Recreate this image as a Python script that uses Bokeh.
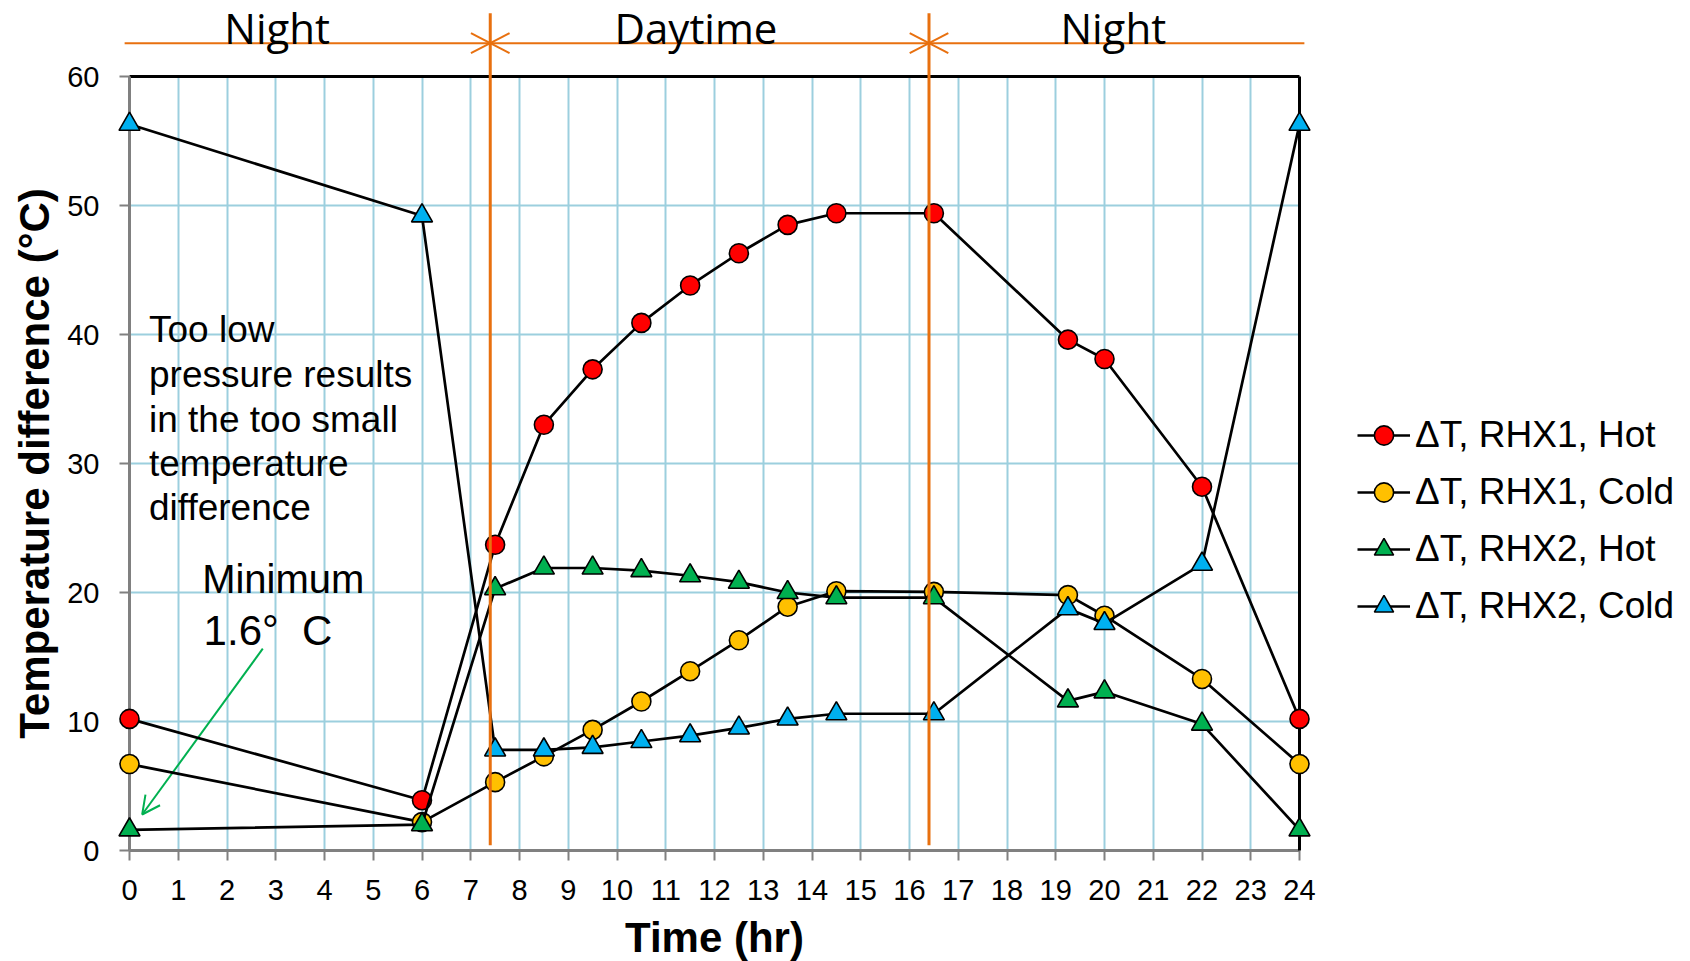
from bokeh.plotting import figure
from bokeh.models import (Range1d, LinearAxis, FixedTicker, Label, Arrow,
                          OpenHead, Legend, LegendItem)
from bokeh.core.properties import value
from bokeh.embed import file_html
from bokeh.resources import INLINE

# ---------------- data ----------------
hours = [0, 6, 7.5, 8.5, 9.5, 10.5, 11.5, 12.5, 13.5, 14.5, 16.5, 19.25, 20, 22, 24]
rhx1_hot = [10.2, 3.9, 23.7, 33.0, 37.3, 40.9, 43.8, 46.3, 48.5, 49.4, 49.4, 39.6, 38.1, 28.2, 10.2]
rhx1_cold = [6.7, 2.2, 5.3, 7.3, 9.35, 11.55, 13.9, 16.3, 18.9, 20.1, 20.05, 19.8, 18.2, 13.3, 6.7]
rhx2_hot = [1.6, 2.0, 20.3, 21.9, 21.9, 21.7, 21.3, 20.8, 20.0, 19.6, 19.6, 11.6, 12.3, 9.8, 1.6]
rhx2_cold = [56.3, 49.2, 7.8, 7.8, 8.0, 8.45, 8.9, 9.5, 10.2, 10.6, 10.6, 18.75, 17.6, 22.2, 56.3]

series_names = ["\u0394T, RHX1, Hot", "\u0394T, RHX1, Cold", "\u0394T, RHX2, Hot", "\u0394T, RHX2, Cold"]
series_values = [rhx1_hot, rhx1_cold, rhx2_hot, rhx2_cold]
series_colors = ["#FF0000", "#FFC000", "#00B050", "#00B0F0"]
series_markers = ["circle", "circle", "triangle", "triangle"]

x_ticks = list(range(0, 25))
y_ticks = [0, 10, 20, 30, 40, 50, 60]

phase_names = ["Night", "Daytime", "Night"]
phase_label_x = [3.03, 11.62, 20.18]
phase_bounds = [7.4, 16.4]

note_lines = ["Too low", "pressure results", "in the too small", "temperature", "difference"]
minimum_lines = ["Minimum", "1.6\u00b0\u00a0\u00a0C"]
minimum_point = (0.26, 2.79)

ORANGE = "#E8700F"
GRID = "#9CCFDE"
AXIS_GRAY = "#808080"
FONT = "Liberation Sans"

FRAME_W, FRAME_H = 1170, 774
X0, X1, Y0, Y1 = 0, 24, 0, 60
PX_X = FRAME_W / (X1 - X0)   # pixels per hour
PX_Y = FRAME_H / (Y1 - Y0)   # pixels per degree

p = figure(frame_width=FRAME_W, frame_height=FRAME_H,
           x_range=Range1d(X0, X1), y_range=Range1d(Y0, Y1),
           output_backend="svg", toolbar_location=None,
           min_border_left=129, min_border_right=391,
           min_border_top=76, min_border_bottom=111,
           background_fill_color="white", border_fill_color="white",
           outline_line_color=None)

# grid
p.xgrid.ticker = FixedTicker(ticks=x_ticks)
p.ygrid.ticker = FixedTicker(ticks=y_ticks)
for g in (p.xgrid[0], p.ygrid[0]):
    g.grid_line_color = GRID
    g.grid_line_width = 2

# axes
xa = p.xaxis[0]
xa.ticker = FixedTicker(ticks=x_ticks)
ya = p.yaxis[0]
ya.ticker = FixedTicker(ticks=y_ticks)
for ax in (xa, ya):
    ax.axis_line_color = AXIS_GRAY
    ax.axis_line_width = 3
    ax.major_tick_line_color = AXIS_GRAY
    ax.major_tick_line_width = 2
    ax.major_tick_out = 10
    ax.major_tick_in = 0
    ax.minor_tick_line_color = None
    ax.major_label_text_font = FONT
    ax.major_label_text_font_size = "29px"
    ax.major_label_text_color = "black"
    ax.axis_label_text_font = FONT
    ax.axis_label_text_font_style = "bold"
    ax.axis_label_text_font_size = "42px"
    ax.axis_label_text_color = "black"
xa.axis_label = "Time (hr)"
xa.major_label_standoff = 19
xa.axis_label_standoff = 11
ya.axis_label = "Temperature difference (\u00b0C)"
ya.major_label_standoff = 20
ya.axis_label_standoff = 6

top_ax = LinearAxis(ticker=FixedTicker(ticks=[]), axis_line_color="black",
                    axis_line_width=3, major_tick_line_color=None,
                    minor_tick_line_color=None)
p.add_layout(top_ax, "above")

# right border of the plot area
rb = p.segment(x0=[X1], y0=[Y0], x1=[X1], y1=[Y1], line_color="black", line_width=3)
rb.level = "overlay"

# series
items = []
for name, vals, color, marker in zip(series_names, series_values, series_colors, series_markers):
    lr = p.line(hours, vals, line_color="black", line_width=2.7)
    lr.level = "overlay"
    sr = p.scatter(hours, vals, marker=marker, size=19 if marker == "circle" else 21,
                   fill_color=color, line_color="black", line_width=1.6)
    sr.level = "overlay"
    items.append(LegendItem(label=name, renderers=[lr, sr]))

legend = Legend(items=items, location=(58, 220),
                label_text_font=FONT, label_text_font_size="37px",
                label_text_color="black",
                glyph_width=53, glyph_height=48, label_height=48,
                label_standoff=5, spacing=9, padding=0, margin=0,
                border_line_color=None, background_fill_alpha=0)
p.add_layout(legend, "right")

# phase markers above the plot
line_y = 62.58
hl = p.segment(x0=[-0.1], y0=[line_y], x1=[24.1], y1=[line_y],
               line_color=ORANGE, line_width=2)
hl.level = "overlay"
vl = p.segment(x0=phase_bounds, y0=[64.9] * len(phase_bounds),
               x1=phase_bounds, y1=[0.4] * len(phase_bounds),
               line_color=ORANGE, line_width=3)
vl.level = "overlay"
head_dx = 19.3 / PX_X
head_dy = 10.0 / PX_Y
wx0, wy0, wx1, wy1 = [], [], [], []
for xb in phase_bounds:
    for sx in (-1, 1):
        for sy in (-1, 1):
            wx0.append(xb + sx * head_dx)
            wy0.append(line_y + sy * head_dy)
            wx1.append(xb)
            wy1.append(line_y)
hw = p.segment(x0=wx0, y0=wy0, x1=wx1, y1=wy1, line_color=ORANGE, line_width=2)
hw.level = "overlay"

BASE_SHIFT = 0.36  # em, alphabetic baseline correction
def lift(fs):
    return BASE_SHIFT * fs / PX_Y

tl = p.text(x=phase_label_x, y=[62.6 + lift(42)] * len(phase_names), text=phase_names,
            text_font=value("Open Sans"), text_font_size="42px",
            text_align="center", text_baseline="alphabetic", text_color="black")
tl.level = "overlay"

# notes
note_y = [39.35, 35.89, 32.40, 28.96, 25.54]
for t, yy in zip(note_lines, note_y):
    p.add_layout(Label(x=0.4, y=yy + lift(37), text=t, text_font=FONT, text_font_size="37px",
                       text_align="left", text_baseline="alphabetic", text_color="black"))
p.add_layout(Label(x=1.49, y=19.96 + lift(40), text=minimum_lines[0], text_font=FONT,
                   text_font_size="40px", text_align="left", text_baseline="alphabetic",
                   text_color="black"))
p.add_layout(Label(x=1.52, y=15.9 + lift(42), text=minimum_lines[1], text_font=FONT,
                   text_font_size="42px", text_align="left", text_baseline="alphabetic",
                   text_color="black"))
p.add_layout(Arrow(x_start=2.734, y_start=15.65, x_end=minimum_point[0], y_end=minimum_point[1],
                   end=OpenHead(size=18, line_color="#00B050", line_width=2),
                   line_color="#00B050", line_width=2))

open("out.html", "w").write(file_html(p, INLINE))
